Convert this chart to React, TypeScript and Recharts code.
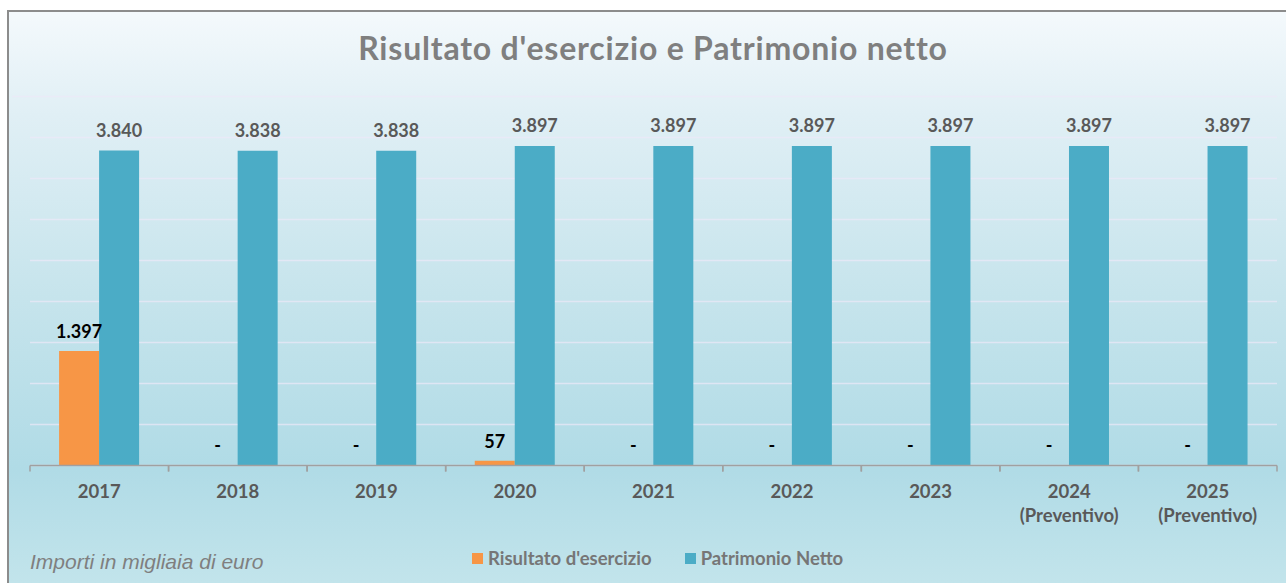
import React from 'react';
import { BarChart, Bar, XAxis, YAxis, CartesianGrid, LabelList, Legend } from 'recharts';

const categories = ['2017', '2018', '2019', '2020', '2021', '2022', '2023', '2024\n(Preventivo)', '2025\n(Preventivo)'];
const risultato = [1397, 0, 0, 57, 0, 0, 0, 0, 0];
const patrimonio = [3840, 3838, 3838, 3897, 3897, 3897, 3897, 3897, 3897];
const yTicks = [0, 500, 1000, 1500, 2000, 2500, 3000, 3500, 4000, 4500];
const seriesNames = ["Risultato d'esercizio", 'Patrimonio Netto'];
const titleText = "Risultato d'esercizio e Patrimonio netto";
const noteText = 'Importi in migliaia di euro';

const data = categories.map((c, i) => ({ name: c, risultato: risultato[i], patrimonio: patrimonio[i] }));

const fmt = (v: any) => {
  const n = Number(v);
  if (!n) return '-';
  return String(Math.round(n)).replace(/\B(?=(\d{3})+(?!\d))/g, '.');
};

const W = 1277;
const H = 571;

const XTick = (props: any) => {
  const { x, y, payload } = props;
  const half = payload && payload.offset ? payload.offset : (props.width || 1247) / categories.length / 2;
  const lines = String(payload.value).split('\n');
  return (
    <g>
      <line x1={x - half} x2={x - half} y1={y} y2={y + 6} stroke="#a0a0a0" strokeWidth={1.5} />
      <line x1={x + half} x2={x + half} y1={y} y2={y + 6} stroke="#a0a0a0" strokeWidth={1.5} />
      <text x={x} y={y + 32} textAnchor="middle" fill="#595959" fontSize={18.5} fontWeight={700}>
        {lines.map((l, i) => (
          <tspan key={i} x={x} dy={i === 0 ? 0 : 24}>{l}</tspan>
        ))}
      </text>
    </g>
  );
};

const LegendContent = (props: any) => {
  const items = [...(props.payload || [])].sort(
    (a: any, b: any) => seriesNames.indexOf(a.value) - seriesNames.indexOf(b.value)
  );
  return (
    <div style={{ display: 'flex', alignItems: 'center', fontFamily: 'Lato, sans-serif', fontWeight: 700, fontSize: 18.5, color: '#767676', whiteSpace: 'nowrap' }}>
      {items.map((it: any, i: number) => (
        <div key={i} style={{ display: 'flex', alignItems: 'center', marginRight: i === 0 ? 33 : 0 }}>
          <span style={{ display: 'inline-block', width: 11, height: 11, background: it.color, marginRight: 5 }} />
          <span style={{ lineHeight: '20px' }}>{it.value}</span>
        </div>
      ))}
    </div>
  );
};

export default function App() {
  return (
    <div
      style={{
        position: 'fixed',
        left: 7,
        top: 10,
        width: 1286 - 9,
        height: 583 - 12,
        borderLeft: '2px solid #8c8c8c',
        borderTop: '2px solid #8c8c8c',
        background: 'linear-gradient(to bottom, #f4f9fc 0%, #e0eff5 18%, #c6e4ec 50%, #b0dbe6 80%, #c2e4eb 100%)',
        fontFamily: 'Lato, sans-serif',
        overflow: 'hidden',
      }}
    >
      <svg width={W} height={H} style={{ position: 'absolute', left: 0, top: 0 }}>
        <text x={653 - 9} y={60 - 12} textAnchor="middle" fill="#7f7f7f" fontSize={32} letterSpacing={0.8} fontWeight={700} fontFamily="Lato, sans-serif">
          {titleText}
        </text>
        <line x1={12 - 9} x2={30 - 9} y1={96.5 - 12} y2={96.5 - 12} stroke="#ece8f8" strokeOpacity={0.7} strokeWidth={1.5} />
        <text x={30 - 9} y={569 - 12} fill="#7f7f7f" fontSize={21} fontStyle="italic" fontFamily="'Liberation Sans', Arial, sans-serif">
          {noteText}
        </text>
      </svg>
      <div style={{ position: 'absolute', left: 0, top: 0 }}>
        <BarChart
          width={W}
          height={H}
          data={data}
          margin={{ top: 84.5, right: 9, left: 21, bottom: 57.5 }}
          barCategoryGap="21%"
          barGap={0}
        >
          <CartesianGrid vertical={false} stroke="#ece8f8" strokeOpacity={0.7} strokeWidth={1.5} />
          <YAxis hide domain={[0, 4500]} ticks={yTicks} />
          <XAxis
            dataKey="name"
            height={60}
            tickSize={0}
            tickMargin={0}
            tickLine={false}
            axisLine={{ stroke: '#a0a0a0', strokeWidth: 1.5 }}
            tick={<XTick />}
            interval={0}
          />
          <Legend
            layout="horizontal"
            verticalAlign="middle"
            align="center"
            content={<LegendContent />}
            wrapperStyle={{ left: 472 - 9, top: 548 - 12, width: 'auto' }}
          />
          <Bar dataKey="risultato" name={seriesNames[0]} fill="#f79646" minPointSize={0.01} isAnimationActive={false}>
            <LabelList dataKey="risultato" position="top" offset={13} formatter={fmt} fill="#000000" fontSize={18} fontWeight={700} />
          </Bar>
          <Bar dataKey="patrimonio" name={seriesNames[1]} fill="#4bacc6" isAnimationActive={false}>
            <LabelList dataKey="patrimonio" position="top" offset={14} formatter={fmt} fill="#595959" fontSize={18} fontWeight={700} />
          </Bar>
        </BarChart>
      </div>
    </div>
  );
}
